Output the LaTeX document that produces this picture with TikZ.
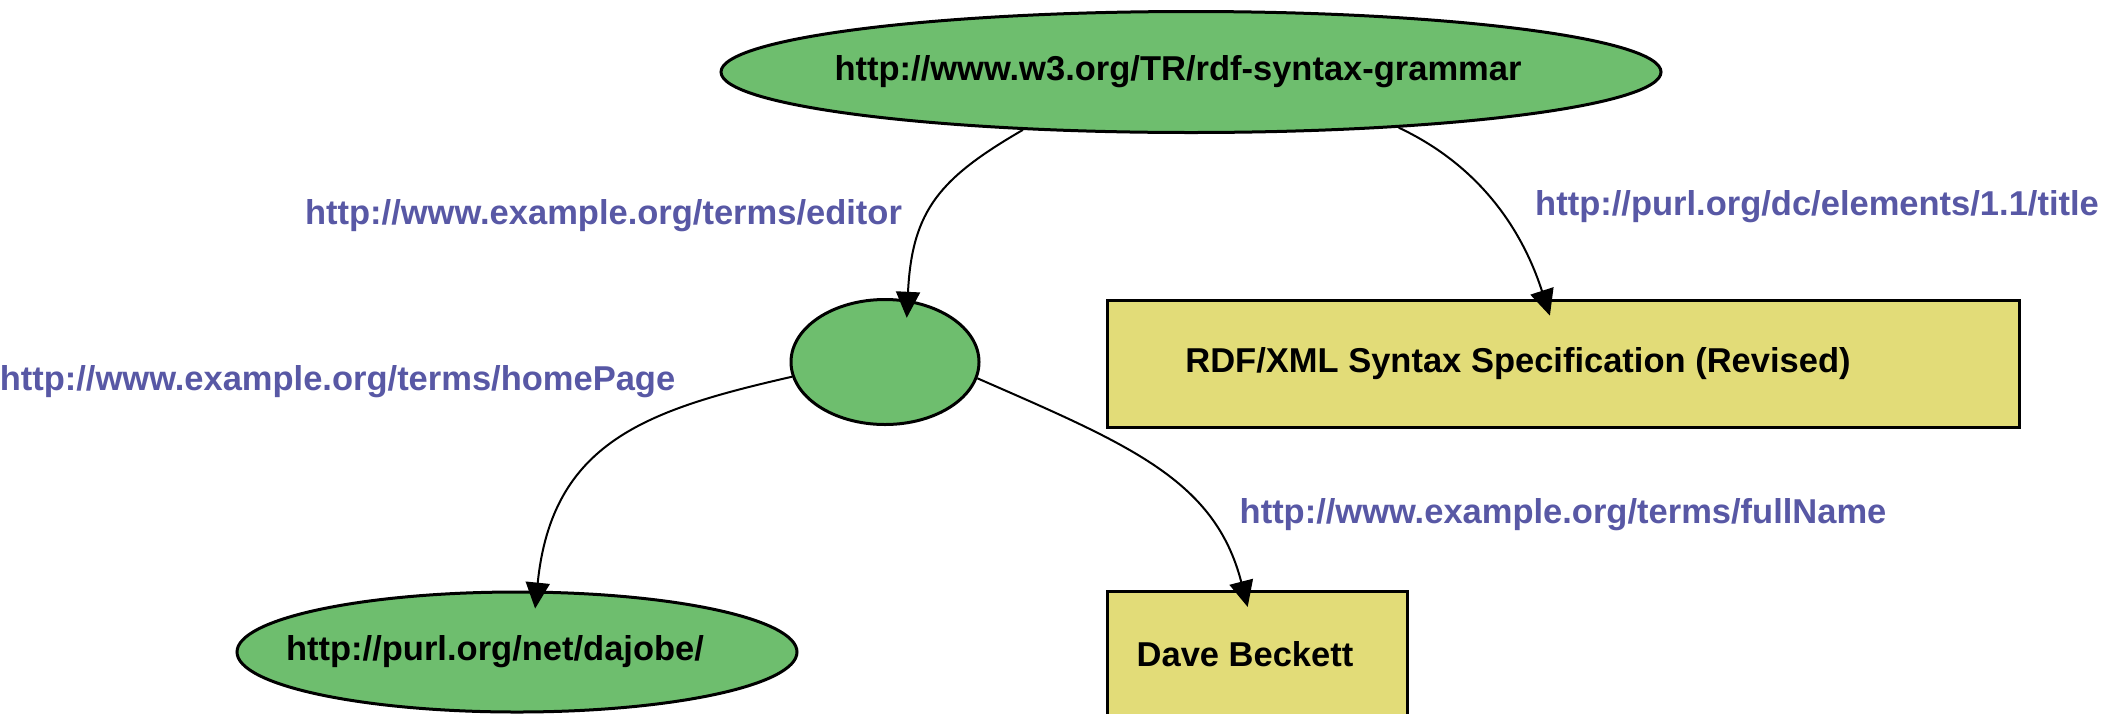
\documentclass[tikz,border=0pt]{standalone}
\usepackage{fontspec}
\setmainfont{Liberation Sans}
\usetikzlibrary{arrows.meta,calc,shapes.geometric}
\definecolor{nodegreen}{RGB}{110,190,110}
\definecolor{lityellow}{RGB}{226,220,120}
\definecolor{propblue}{RGB}{88,88,165}
\begin{document}
\begin{tikzpicture}[x=0.5pt,y=-0.5pt,
  every node/.style={font=\fontsize{17.25}{20}\selectfont\bfseries},
  resnode/.style={ellipse, draw=black, line width=1.5pt, fill=nodegreen, inner ysep=0pt},
  litbox/.style={rectangle, draw=black, line width=1.5pt, fill=lityellow},
  proplabel/.style={text=propblue, inner sep=0pt},
  arc/.style={draw=black, line width=1pt, -{Triangle[length=13pt,width=12pt]}, shorten >=-9pt}
]
\useasboundingbox (0,0) rectangle (2112,713);
\clip (0,0) rectangle (2112,713);
\fill[white] (0,0) rectangle (2112,713);

\node[resnode, minimum width=470pt, minimum height=60.5pt, inner xsep=-16pt] (top) at (1191,72) {http://www.w3.org/TR/rdf-syntax-grammar\hspace*{13pt}};
\node[resnode, minimum width=94pt, minimum height=62.5pt] (blank) at (885,362) {};
\node[resnode, minimum width=280pt, minimum height=60pt, inner xsep=-20pt] (home) at (517,652) {http://purl.org/net/dajobe/\hspace*{22pt}};
\node[litbox, minimum width=456pt, minimum height=63.5pt] (title) at (1563,363.5) {RDF/XML Syntax Specification (Revised)\hspace*{45pt}};
\node[litbox, minimum width=150pt, minimum height=63.5pt] (name) at (1257,654.5) {Dave Beckett\hspace*{12pt}};

\node[proplabel] (leditor) at (603.5,216) {http://www.example.org/terms/editor};
\node[proplabel] (lhome) at (337.5,382) {http://www.example.org/terms/homePage};
\node[proplabel] (ltitle) at (1817,207) {http://purl.org/dc/elements/1.1/title};
\node[proplabel] (lfull) at (1563,515) {http://www.example.org/terms/fullName};

\draw[arc] (top.199) .. controls (940,178) and (912,210) .. (blank.70);
\draw[arc] (top.345) .. controls (1474,163) and (1520,223) .. (title.106);
\draw[arc] (blank.189) .. controls (646,410) and (552,442) .. (home.72);
\draw[arc] (blank.350) .. controls (1130,445) and (1215,480) .. (name.102);
\end{tikzpicture}
\end{document}
